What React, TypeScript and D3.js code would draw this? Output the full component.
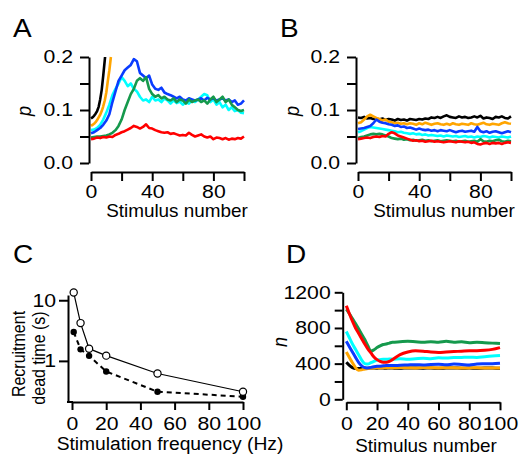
import React, { useRef, useEffect } from "react";
import * as d3 from "d3";

const FONT = "Arial, 'Liberation Sans', Helvetica, sans-serif";
const SX_TICK = 1.18; // the original lettering is horizontally wide
const SX_TITLE = 1.05;

const colors: Record<string, string> = {
  black: "#000000",
  orange: "#FFA500",
  cyan: "#00FFFF",
  blue: "#0A3CFF",
  green: "#15994C",
  red: "#FF0000",
};
const drawOrder = ["black", "orange", "cyan", "blue", "green", "red"];

// stimulus numbers sampled every 2nd stimulus
const stim = d3.range(0, 101, 2);

// ---- panel A : p vs stimulus number ----
const aBlackX = [0, 1, 2, 3, 4, 5, 6, 7, 8, 9, 9.2];
const aBlackY = [0.084, 0.086, 0.089, 0.093, 0.098, 0.106, 0.12, 0.138, 0.165, 0.194, 0.2];
const aOrangeX = [0, 1, 2, 3, 4, 5, 6, 7, 8, 9, 10, 11, 12, 13];
const aOrangeY = [0.07, 0.072, 0.074, 0.077, 0.081, 0.086, 0.091, 0.098, 0.107, 0.118, 0.133, 0.155, 0.175, 0.2];
const aBlue = [0.056, 0.058, 0.062, 0.066, 0.072, 0.08, 0.092, 0.115, 0.135, 0.155, 0.165, 0.175, 0.18, 0.185, 0.196, 0.192,
  0.17, 0.165, 0.16, 0.165, 0.148, 0.14, 0.138, 0.142, 0.133, 0.13, 0.128, 0.125, 0.122, 0.125, 0.12, 0.118, 0.122, 0.12,
  0.118, 0.12, 0.122, 0.118, 0.123, 0.12, 0.122, 0.118, 0.12, 0.122, 0.118, 0.12, 0.115, 0.118, 0.11, 0.112, 0.118];
const aCyan = [0.062, 0.063, 0.066, 0.072, 0.082, 0.095, 0.11, 0.128, 0.14, 0.15, 0.162, 0.155, 0.145, 0.15, 0.14, 0.135,
  0.125, 0.118, 0.12, 0.115, 0.125, 0.118, 0.12, 0.115, 0.122, 0.118, 0.112, 0.118, 0.113, 0.116, 0.11, 0.115, 0.112, 0.118,
  0.115, 0.12, 0.125, 0.13, 0.128, 0.115, 0.12, 0.11, 0.115, 0.105, 0.11, 0.1, 0.105, 0.098, 0.1, 0.095, 0.094];
const aGreen = [0.048, 0.049, 0.05, 0.05, 0.051, 0.052, 0.054, 0.057, 0.062, 0.07, 0.082, 0.1, 0.115, 0.13, 0.14, 0.155,
  0.16, 0.155, 0.162, 0.14, 0.13, 0.125, 0.128, 0.122, 0.125, 0.12, 0.118, 0.122, 0.115, 0.12, 0.118, 0.112, 0.12, 0.115,
  0.118, 0.12, 0.115, 0.118, 0.112, 0.12, 0.125, 0.115, 0.12, 0.125, 0.115, 0.12, 0.11, 0.105, 0.1, 0.098, 0.1];
const aRed = [0.045, 0.046, 0.048, 0.047, 0.049, 0.048, 0.05, 0.049, 0.053, 0.055, 0.058, 0.06, 0.063, 0.066, 0.07, 0.068,
  0.065, 0.068, 0.073, 0.066, 0.065, 0.062, 0.06, 0.058, 0.057, 0.058, 0.055, 0.056, 0.054, 0.052, 0.053, 0.052, 0.057, 0.053,
  0.05, 0.052, 0.054, 0.05, 0.048, 0.05, 0.045, 0.048, 0.047, 0.045, 0.047, 0.044, 0.046, 0.045, 0.047, 0.046, 0.05];

// ---- panel B : p vs stimulus number ----
const bBlack = [0.086, 0.085, 0.087, 0.084, 0.085, 0.083, 0.084, 0.082, 0.084, 0.081, 0.083, 0.082, 0.08, 0.083, 0.081, 0.082,
  0.08, 0.083, 0.082, 0.081, 0.083, 0.082, 0.084, 0.083, 0.086, 0.085, 0.087, 0.085, 0.088, 0.09, 0.087, 0.086, 0.085, 0.088,
  0.086, 0.087, 0.085, 0.086, 0.088, 0.086, 0.089, 0.084, 0.086, 0.085, 0.083, 0.087, 0.086, 0.088, 0.085, 0.084, 0.088];
const bOrange = [0.075, 0.077, 0.082, 0.088, 0.091, 0.088, 0.085, 0.083, 0.08, 0.082, 0.078, 0.077, 0.075, 0.076, 0.074, 0.075,
  0.073, 0.075, 0.074, 0.072, 0.075, 0.073, 0.076, 0.074, 0.072, 0.074, 0.075, 0.073, 0.072, 0.074, 0.072, 0.075, 0.073, 0.072,
  0.074, 0.073, 0.072, 0.075, 0.073, 0.072, 0.074, 0.076, 0.073, 0.072, 0.074, 0.073, 0.072, 0.075, 0.077, 0.075, 0.074];
const bBlue = [0.064, 0.065, 0.066, 0.068, 0.07, 0.075, 0.082, 0.078, 0.076, 0.075, 0.073, 0.072, 0.07, 0.071, 0.068, 0.069,
  0.066, 0.067, 0.065, 0.063, 0.065, 0.063, 0.062, 0.063, 0.061, 0.062, 0.06, 0.062, 0.061, 0.06, 0.062, 0.06, 0.058, 0.06,
  0.061, 0.059, 0.06, 0.061, 0.059, 0.068, 0.06, 0.058, 0.06, 0.057, 0.059, 0.06, 0.058, 0.056, 0.058, 0.06, 0.058];
const bCyan = [0.058, 0.06, 0.063, 0.066, 0.068, 0.067, 0.066, 0.065, 0.064, 0.063, 0.062, 0.061, 0.06, 0.058, 0.059, 0.057,
  0.056, 0.055, 0.056, 0.054, 0.055, 0.053, 0.054, 0.052, 0.053, 0.052, 0.051, 0.052, 0.05, 0.052, 0.051, 0.05, 0.051, 0.049,
  0.05, 0.051, 0.049, 0.05, 0.048, 0.05, 0.049, 0.051, 0.05, 0.048, 0.05, 0.049, 0.048, 0.05, 0.049, 0.048, 0.05];
const bGreen = [0.047, 0.049, 0.05, 0.052, 0.054, 0.055, 0.054, 0.055, 0.054, 0.052, 0.05, 0.047, 0.046, 0.045, 0.046, 0.044,
  0.045, 0.043, 0.044, 0.042, 0.043, 0.044, 0.042, 0.043, 0.041, 0.042, 0.043, 0.041, 0.042, 0.043, 0.042, 0.041, 0.042, 0.04,
  0.041, 0.042, 0.04, 0.041, 0.042, 0.04, 0.045, 0.041, 0.04, 0.042, 0.041, 0.043, 0.044, 0.041, 0.04, 0.042, 0.041];
const bRed = [0.045, 0.046, 0.047, 0.048, 0.047, 0.049, 0.05, 0.049, 0.051, 0.05, 0.055, 0.058, 0.056, 0.052, 0.05, 0.048,
  0.046, 0.044, 0.042, 0.043, 0.041, 0.042, 0.04, 0.041, 0.042, 0.04, 0.041, 0.04, 0.039, 0.04, 0.041, 0.04, 0.039, 0.041,
  0.04, 0.039, 0.04, 0.038, 0.039, 0.036, 0.035, 0.037, 0.038, 0.036, 0.038, 0.037, 0.038, 0.036, 0.038, 0.039, 0.038];

// ---- panel C : recruitment dead time vs stimulation frequency ----
const freqHz = [1, 5, 10, 20, 50, 100];
const deadOpen = [13.4, 4.2, 1.59, 1.22, 0.62, 0.31];
const deadFilled = [3.0, 1.55, 1.21, 0.67, 0.31, 0.257];

// ---- panel D : n vs stimulus number ----
const stimD = [0, 2, 4, 6, 8, 10, 12, 14, 16, 18, 20, 22, 24, 26, 28, 30, 35, 40, 45, 50, 55, 60, 65, 70, 75, 80, 85, 90, 95, 100];
const dBlack = [415, 380, 355, 345, 345, 348, 350, 348, 352, 350, 349, 352, 350, 348, 351, 350, 348, 352, 350, 349, 351, 348, 350, 352, 349, 350, 348, 351, 350, 349];
const dOrange = [530, 470, 410, 355, 325, 330, 340, 345, 350, 352, 355, 352, 355, 353, 356, 354, 356, 355, 352, 356, 354, 352, 355, 353, 350, 352, 354, 350, 352, 350];
const dBlue = [650, 590, 530, 470, 415, 375, 355, 350, 358, 365, 370, 372, 375, 378, 380, 378, 382, 385, 388, 385, 390, 392, 388, 395, 390, 385, 395, 398, 400, 405];
const dCyan = [760, 690, 620, 560, 500, 440, 400, 395, 410, 425, 440, 445, 450, 448, 452, 450, 455, 450, 455, 460, 455, 465, 462, 468, 470, 472, 470, 478, 485, 490];
const dGreen = [1010, 960, 905, 850, 790, 730, 670, 600, 540, 555, 580, 600, 615, 620, 630, 640, 645, 650, 645, 640, 645, 640, 650, 640, 645, 635, 640, 635, 630, 625];
const dRed = [1050, 960, 875, 800, 740, 680, 620, 565, 520, 475, 445, 425, 415, 415, 425, 445, 500, 530, 545, 540, 530, 525, 530, 535, 540, 545, 545, 550, 560, 580];

function App() {
  const svgRef = useRef<SVGSVGElement>(null);

  useEffect(() => {
    const svg = d3.select(svgRef.current);
    svg.selectAll("*").remove();

    const label = (x: number, y: number, txt: string, size: number, anchor = "start", italic = false, sx = SX_TITLE) =>
      svg.append("text")
        .attr("transform", `translate(${x},${y}) scale(${sx},1)`)
        .attr("text-anchor", anchor)
        .attr("font-family", FONT)
        .attr("font-size", size)
        .attr("font-style", italic ? "italic" : "normal")
        .text(txt);

    // rotated labels: wide glyphs across, true length along the axis
    const vlabel = (x: number, y: number, txt: string, size: number, italic = false, across = 1.1) =>
      svg.append("text")
        .attr("transform", `translate(${x},${y}) rotate(-90) scale(1,${across})`)
        .attr("text-anchor", "middle")
        .attr("font-family", FONT)
        .attr("font-size", size)
        .attr("font-style", italic ? "italic" : "normal")
        .text(txt);

    const styleAxis = (g: any) => {
      g.selectAll("path.domain").attr("stroke-width", 2);
      g.selectAll(".tick line").attr("stroke-width", 2);
      g.selectAll(".tick text")
        .attr("font-family", FONT)
        .attr("font-size", 18)
        .attr("fill", "#000")
        .attr("transform", `scale(${SX_TICK},1)`);
    };
    const leftGap = (g: any, gap: number) => g.selectAll(".tick text").attr("x", -gap / SX_TICK);

    const line = (x: any, y: any) =>
      d3.line<[number, number]>().x((d) => x(d[0])).y((d) => y(d[1]));

    // ---------- panels A and B ----------
    const pPanel = (x0: number, yAxisX: number, series: Record<string, [number[], number[]]>, letter: string, pX: number) => {
      const x = d3.scaleLinear().domain([0, 100]).range([x0, x0 + 153]);
      const y = d3.scaleLinear().domain([0, 0.2]).range([163, 57]);

      drawOrder.forEach((k) => {
        const s = series[k];
        if (!s) return;
        const pts: [number, number][] = s[0].map((v, i) => [v, s[1][i]]);
        svg.append("path")
          .attr("d", line(x, y)(pts))
          .attr("fill", "none")
          .attr("stroke", colors[k])
          .attr("stroke-width", 2.6)
          .attr("stroke-linejoin", "round");
      });

      const gy = svg.append("g").attr("transform", `translate(${yAxisX},0)`)
        .call(d3.axisLeft(y).tickValues([0, 0.05, 0.1, 0.15, 0.2]).tickSize(9).tickSizeOuter(0)
          .tickFormat((d: any) => (Math.round(d * 100) % 10 === 0 ? d3.format(".1f")(d) : "")));
      styleAxis(gy);
      leftGap(gy, 16);

      const gx = svg.append("g").attr("transform", `translate(0,172)`)
        .call(d3.axisBottom(x).tickValues([0, 20, 40, 60, 80, 100]).tickSize(9).tickPadding(4).tickSizeOuter(0)
          .tickFormat((d: any) => (d % 40 === 0 ? String(d) : "")));
      styleAxis(gx);

      label(x0 + 86, 217, "Stimulus number", 18, "middle");
      vlabel(pX, 111, "p", 18, true);
      label(x0 - 78, 37, letter, 25, "start", false, 1.12);
    };

    pPanel(91, 89, {
      black: [aBlackX, aBlackY],
      orange: [aOrangeX, aOrangeY],
      cyan: [stim, aCyan],
      blue: [stim, aBlue],
      green: [stim, aGreen],
      red: [stim, aRed],
    }, "A", 31);

    pPanel(358, 356, {
      black: [stim, bBlack],
      orange: [stim, bOrange],
      cyan: [stim, bCyan],
      blue: [stim, bBlue],
      green: [stim, bGreen],
      red: [stim, bRed],
    }, "B", 299);

    // ---------- panel C ----------
    const xC = d3.scaleLinear().domain([0, 100]).range([72, 243]);
    const yC = d3.scaleLog().domain([0.21, 12.2]).range([402, 295]);
    const openPts: [number, number][] = freqHz.map((f, i) => [f, deadOpen[i]]);
    const filledPts: [number, number][] = freqHz.map((f, i) => [f, deadFilled[i]]);

    svg.append("path").attr("d", line(xC, yC)(filledPts))
      .attr("fill", "none").attr("stroke", "#000").attr("stroke-width", 2).attr("stroke-dasharray", "5,4");
    svg.append("path").attr("d", line(xC, yC)(openPts))
      .attr("fill", "none").attr("stroke", "#000").attr("stroke-width", 1.2);
    svg.selectAll(".fdot").data(filledPts).enter().append("circle")
      .attr("cx", (d) => xC(d[0])).attr("cy", (d) => yC(d[1])).attr("r", 3.2).attr("fill", "#000");
    svg.selectAll(".odot").data(openPts).enter().append("circle")
      .attr("cx", (d) => xC(d[0])).attr("cy", (d) => yC(d[1])).attr("r", 3.6)
      .attr("fill", "#fff").attr("stroke", "#000").attr("stroke-width", 1.2);

    const gyC = svg.append("g").attr("transform", "translate(68,0)")
      .call(d3.axisLeft(yC).tickValues([1, 10]).tickSize(9).tickSizeOuter(0).tickFormat(d3.format("d")));
    styleAxis(gyC);
    leftGap(gyC, 12);
    const gxC = svg.append("g").attr("transform", "translate(0,402)")
      .call(d3.axisBottom(xC).tickValues([0, 20, 40, 60, 80, 100]).tickSize(8).tickPadding(7).tickSizeOuter(0));
    styleAxis(gxC);
    svg.append("line").attr("x1", 67).attr("x2", 73).attr("y1", 402).attr("y2", 402)
      .attr("stroke", "#000").attr("stroke-width", 2);

    label(170, 450, "Stimulation frequency (Hz)", 18, "middle", false, 1.07);
    vlabel(25, 354, "Recruitment", 16, false, 1.2);
    vlabel(45, 358, "dead time (s)", 16, false, 1.2);
    label(13, 263, "C", 25, "start", false, 1.12);

    // ---------- panel D ----------
    const xD = d3.scaleLinear().domain([0, 100]).range([346.3, 500]);
    const yD = d3.scaleLinear().domain([0, 1200]).range([399.3, 292.3]);
    const dSeries: Record<string, number[]> = {
      black: dBlack, orange: dOrange, cyan: dCyan, blue: dBlue, green: dGreen, red: dRed,
    };
    ["black", "orange", "blue", "cyan", "green", "red"].forEach((k) => {
      const pts: [number, number][] = stimD.map((s, i) => [s, dSeries[k][i]]);
      svg.append("path")
        .attr("d", line(xD, yD).curve(d3.curveMonotoneX)(pts))
        .attr("fill", "none")
        .attr("stroke", colors[k])
        .attr("stroke-width", 3)
        .attr("stroke-linejoin", "round");
    });

    const gyD = svg.append("g").attr("transform", "translate(342.7,0)")
      .call(d3.axisLeft(yD).tickValues(d3.range(0, 1201, 200)).tickSize(8).tickSizeOuter(0)
        .tickFormat((d: any) => (d % 400 === 0 ? String(d) : "")));
    styleAxis(gyD);
    leftGap(gyD, 12);
    const gxD = svg.append("g").attr("transform", "translate(0,402.3)")
      .call(d3.axisBottom(xD).tickValues([0, 20, 40, 60, 80, 100]).tickSize(8).tickPadding(7).tickSizeOuter(0));
    styleAxis(gxD);

    label(426, 452, "Stimulus number", 18, "middle");
    vlabel(287, 342, "n", 18, true);
    label(286, 263, "D", 25, "start", false, 1.12);

    return () => {
      svg.selectAll("*").remove();
    };
  }, []);

  return (
    <svg ref={svgRef} width={519} height={456}
      style={{ position: "absolute", left: 0, top: 0, background: "#fff" }} />
  );
}

export default App;
